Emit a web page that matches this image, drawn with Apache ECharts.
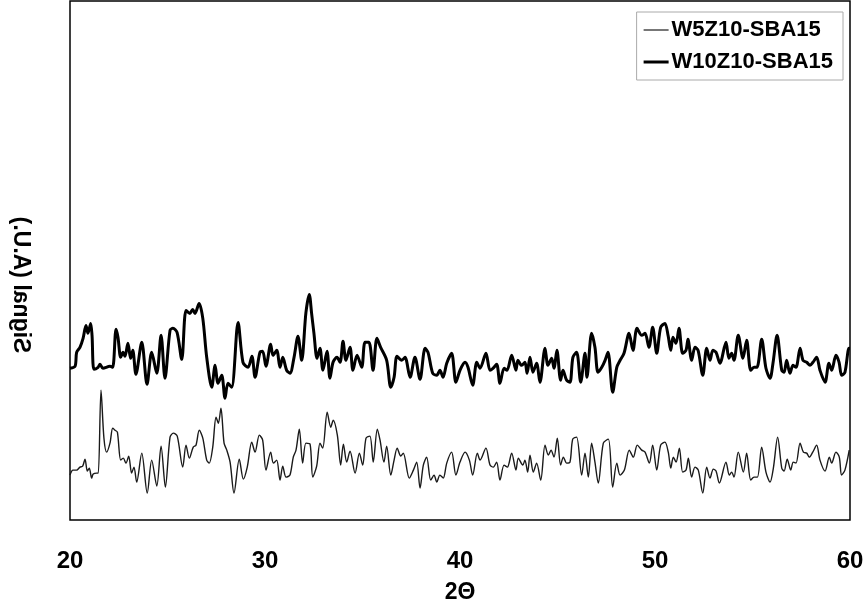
<!DOCTYPE html>
<html>
<head>
<meta charset="utf-8">
<script src="https://cdn.jsdelivr.net/npm/echarts@6/dist/echarts.min.js"></script>
<style>
html,body{margin:0;padding:0;background:#fff;}
#chart{width:868px;height:610px;}
</style>
</head>
<body>
<div id="chart"></div>
<script>
const seriesNames = ['W5Z10-SBA15', 'W10Z10-SBA15'];
const xTicks = [20, 30, 40, 50, 60];
const xTitle = '2\u0398';
const yTitle = 'Signal (A.U.)';

const w5Theta = [20.00,20.15,20.34,20.51,20.65,20.77,20.89,20.99,21.11,21.19,21.37,21.45,21.59,21.74,21.88,22.05,22.19,22.31,22.43,22.60,22.73,22.87,23.01,23.16,23.28,23.42,23.68,23.96,24.19,24.45,24.67,24.89,25.13,25.30,25.50,25.78,25.95,26.12,26.32,26.46,26.63,26.81,27.01,27.14,27.32,27.49,27.61,27.74,27.90,28.04,28.21,28.41,28.68,28.89,29.09,29.32,29.49,29.71,29.88,30.05,30.29,30.43,30.60,30.77,30.91,31.08,31.28,31.45,31.59,31.76,31.93,32.10,32.31,32.45,32.65,32.82,32.96,33.19,33.37,33.50,33.71,33.88,34.02,34.19,34.36,34.62,34.84,35.01,35.18,35.38,35.55,35.76,35.90,36.10,36.24,36.45,36.62,36.78,36.96,37.09,37.40,37.61,37.78,37.95,38.12,38.29,38.50,38.67,38.81,38.97,39.14,39.32,39.57,39.79,40.00,40.26,40.48,40.65,40.89,41.03,41.33,41.54,41.71,41.88,42.05,42.26,42.43,42.65,42.87,42.99,43.22,43.33,43.47,43.59,43.76,43.93,44.14,44.36,44.53,44.67,44.82,44.99,45.16,45.30,45.47,45.64,45.78,45.98,46.24,46.41,46.58,46.75,46.92,47.09,47.35,47.61,47.83,48.04,48.21,48.43,48.68,48.89,49.09,49.32,49.49,49.71,49.88,50.09,50.29,50.51,50.68,50.81,50.94,51.08,51.25,51.42,51.59,51.71,51.88,52.05,52.22,52.45,52.65,52.82,52.99,53.13,53.30,53.64,53.81,53.93,54.05,54.27,54.53,54.70,54.91,55.08,55.25,55.47,55.69,55.90,56.07,56.29,56.50,56.62,56.78,56.96,57.09,57.23,57.44,57.61,57.78,57.91,58.09,58.29,58.46,58.72,58.94,59.06,59.28,59.45,59.57,59.74,59.96];
const w5Signal = [45,50,50,53,54,61,49,52,42,46,47,47,130,82,68,77,92,90,88,60,62,57,64,47,53,38,67,27,60,34,74,33,83,87,84,53,75,62,73,75,90,82,60,57,73,103,97,112,77,70,58,27,61,41,53,78,68,85,80,50,68,57,60,40,54,43,45,63,70,91,57,77,76,43,54,77,72,108,93,100,85,55,76,58,69,47,67,55,82,84,58,91,80,58,74,45,60,72,64,67,42,50,58,32,55,63,40,45,38,45,42,57,68,45,58,68,60,45,67,60,72,55,53,58,40,55,53,67,50,62,55,60,48,65,48,57,40,75,65,70,63,82,55,63,57,58,81,83,45,67,43,77,58,37,77,81,33,57,45,50,70,63,75,70,68,57,75,50,75,78,68,52,63,58,72,48,50,62,43,53,50,27,53,42,51,49,37,58,45,48,43,68,48,67,40,43,43,73,48,38,52,83,52,49,61,50,58,57,77,68,67,63,68,75,60,49,63,57,68,63,45,50,70];

const w10Theta = [20.00,20.26,20.34,20.51,20.67,20.82,20.92,21.06,21.13,21.23,21.44,21.54,21.69,22.05,22.19,22.36,22.46,22.60,22.72,22.82,22.97,23.11,23.22,23.38,23.68,23.95,24.19,24.45,24.67,24.87,25.13,25.28,25.49,25.73,25.95,26.15,26.29,26.41,26.62,26.81,27.01,27.27,27.44,27.59,27.78,27.95,28.10,28.29,28.62,28.87,29.13,29.33,29.49,29.74,29.88,30.05,30.29,30.41,30.60,30.77,30.91,31.11,31.28,31.49,31.69,31.88,32.10,32.27,32.39,32.51,32.67,32.82,32.97,33.18,33.33,33.49,33.69,33.85,34.00,34.15,34.36,34.51,34.72,34.96,35.13,35.33,35.54,35.74,35.93,36.24,36.45,36.62,36.77,37.01,37.18,37.44,37.69,37.95,38.21,38.36,38.60,38.81,38.97,39.13,39.32,39.57,39.79,40.00,40.26,40.41,40.65,40.86,41.03,41.33,41.54,41.69,41.88,42.05,42.26,42.41,42.65,42.87,42.97,43.16,43.33,43.44,43.59,43.74,43.93,44.10,44.36,44.51,44.70,44.82,44.97,45.16,45.28,45.47,45.64,45.79,45.98,46.19,46.41,46.51,46.75,46.92,47.08,47.27,47.44,47.59,47.83,48.04,48.21,48.41,48.67,48.87,49.08,49.32,49.49,49.69,49.88,50.09,50.29,50.51,50.67,50.81,50.92,51.08,51.23,51.42,51.59,51.69,51.88,52.05,52.21,52.45,52.65,52.82,52.97,53.13,53.33,53.64,53.79,53.93,54.05,54.27,54.51,54.70,54.91,55.08,55.23,55.47,55.69,55.90,56.05,56.26,56.50,56.62,56.75,56.92,57.08,57.23,57.44,57.59,57.78,57.95,58.10,58.29,58.46,58.72,58.92,59.06,59.28,59.44,59.57,59.74,59.95,60.00];
const w10Signal = [152,154,168,173,182,195,187,197,185,151,153,156,152,154,153,191,183,163,168,164,177,162,170,146,178,136,168,147,185,142,190,192,188,161,210,207,211,207,217,202,163,133,155,137,145,122,137,133,198,158,153,164,143,168,169,154,176,165,170,153,163,150,147,163,184,160,208,226,207,187,162,172,150,169,142,158,163,158,179,160,173,150,165,153,178,178,150,182,173,160,133,143,164,160,163,143,163,141,172,168,147,145,150,143,157,167,138,150,158,153,135,158,152,167,150,152,156,137,152,150,165,150,160,155,158,147,163,148,157,138,172,155,162,152,170,140,150,140,138,163,168,138,167,143,187,173,148,153,160,168,128,153,160,167,187,170,192,185,187,173,193,167,193,197,185,170,183,177,192,167,170,181,160,173,170,145,172,160,170,168,157,178,162,167,160,185,162,180,150,153,153,181,152,142,157,185,150,148,160,147,155,153,172,160,158,155,158,163,150,138,157,150,165,158,145,148,172,172];

function zip(a, b) { return a.map((v, i) => [v, b[i]]); }

const FONT = '"Liberation Sans", Arial, sans-serif';
const chart = echarts.init(document.getElementById('chart'), null, {renderer: 'canvas'});
chart.setOption({
  animation: false,
  backgroundColor: '#fff',
  grid: {
    left: 70, right: 18, top: 1, bottom: 90,
    show: true, borderColor: '#000', borderWidth: 1.5, backgroundColor: 'transparent'
  },
  legend: {
    orient: 'vertical',
    right: 25, top: 12,
    data: [
      {name: seriesNames[0], icon: 'path://M0 0H25V1.6H0Z', itemStyle: {color: '#555'}},
      {name: seriesNames[1], icon: 'path://M0 0H25V3H0Z', itemStyle: {color: '#000'}}
    ],
    symbolKeepAspect: true,
    borderColor: '#aaa', borderWidth: 1,
    padding: [6, 10, 6, 7],
    itemGap: 8,
    itemWidth: 25, itemHeight: 14,
    textStyle: {fontFamily: FONT, fontWeight: 'bold', fontSize: 22, color: '#000', lineHeight: 24, padding: [0,0,0,-2]}
  },
  xAxis: {
    type: 'value', min: xTicks[0], max: xTicks[xTicks.length - 1], interval: 10,
    axisLine: {show: false}, axisTick: {show: false}, splitLine: {show: false},
    axisLabel: {fontFamily: FONT, fontWeight: 'bold', fontSize: 24, color: '#000', margin: 29},
    name: xTitle, nameLocation: 'middle', nameGap: 61,
    nameTextStyle: {fontFamily: FONT, fontWeight: 'bold', fontSize: 23, color: '#000'}
  },
  yAxis: {
    type: 'value', min: 0, max: 520,
    axisLine: {show: false}, axisTick: {show: false}, splitLine: {show: false},
    axisLabel: {show: false}
  },
  graphic: [{
    type: 'text',
    x: 20, y: 285,
    rotation: Math.PI / 2,
    scaleY: -1,
    style: {
      text: yTitle, x: 0, y: 0,
      textAlign: 'center', textVerticalAlign: 'middle',
      align: 'center', verticalAlign: 'middle',
      font: 'bold 23px ' + FONT, fill: '#000'
    }
  }],
  series: [
    {
      name: seriesNames[0], type: 'line', data: zip(w5Theta, w5Signal),
      symbol: 'none', smooth: 0.3,
      lineStyle: {color: '#1a1a1a', width: 1.4},
      itemStyle: {color: '#555'}
    },
    {
      name: seriesNames[1], type: 'line', data: zip(w10Theta, w10Signal),
      symbol: 'none', smooth: 0.3,
      lineStyle: {color: '#000', width: 3},
      itemStyle: {color: '#000'}
    }
  ]
});
</script>
</body>
</html>
